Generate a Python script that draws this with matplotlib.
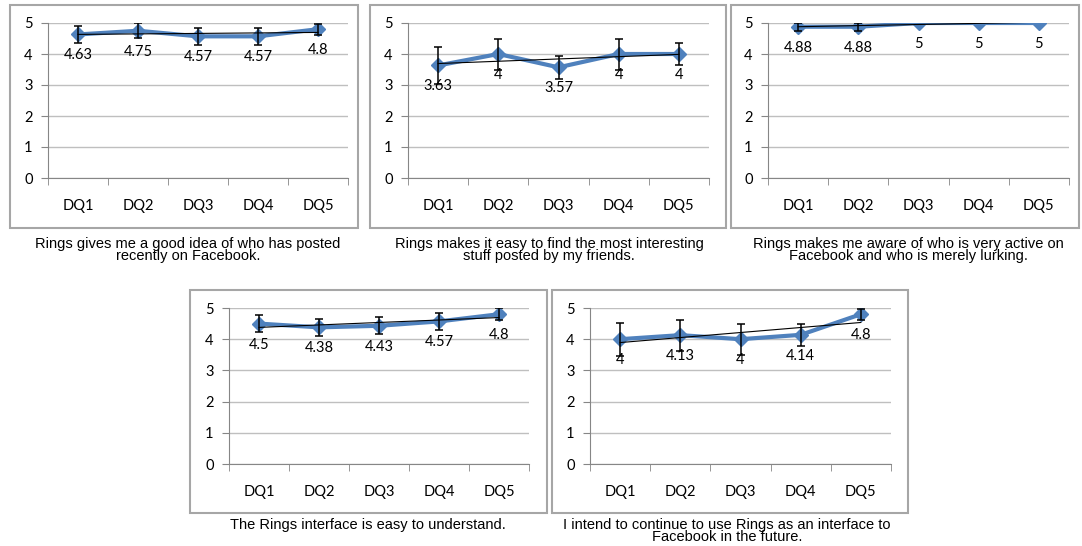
import numpy as np
import matplotlib
matplotlib.use("Agg")
import matplotlib.pyplot as plt
from matplotlib.patches import Rectangle

# datos de las cinco preguntas
categories = ["DQ1", "DQ2", "DQ3", "DQ4", "DQ5"]

p1_vals = [4.63, 4.75, 4.57, 4.57, 4.8]
p1_err = [0.28, 0.24, 0.28, 0.28, 0.18]
p1_title = "Rings gives me a good idea of who has posted\nrecently on Facebook."

p2_vals = [3.63, 4, 3.57, 4, 4]
p2_err = [0.6, 0.5, 0.38, 0.5, 0.36]
p2_title = "Rings makes it easy to find the most interesting\nstuff posted by my friends."

p3_vals = [4.88, 4.88, 5, 5, 5]
p3_err = [0.13, 0.13, 0, 0, 0]
p3_title = "Rings makes me aware of who is very active on\nFacebook and who is merely lurking."

p4_vals = [4.5, 4.38, 4.43, 4.57, 4.8]
p4_err = [0.28, 0.27, 0.27, 0.27, 0.19]
p4_title = "The Rings interface is easy to understand."

p5_vals = [4, 4.13, 4, 4.14, 4.8]
p5_err = [0.53, 0.5, 0.5, 0.35, 0.18]
p5_title = "I intend to continue to use Rings as an interface to\nFacebook in the future."

W, H = 1082, 546
BLUE = "#4F81BD"
GRID = "#BFBFBF"
AXIS = "#868686"
BOX = "#A6A6A6"

fig = plt.figure(figsize=(W / 100, H / 100), dpi=100)
fig.patch.set_facecolor("white")


def px_axes(x0, x1, y0, y1):
    return fig.add_axes([x0 / W, 1 - y1 / H, (x1 - x0) / W, (y1 - y0) / H])


def box(x0, x1, y0, y1):
    fig.patches.append(Rectangle((x0 / W, 1 - y1 / H), (x1 - x0) / W, (y1 - y0) / H,
                                 transform=fig.transFigure, fill=False,
                                 edgecolor=BOX, linewidth=1.5))


def panel(vals, errs, title, ax_px, box_px, cap_xy):
    box(*box_px)
    ax = px_axes(*ax_px)
    x = np.arange(len(categories))
    ax.set_xlim(-0.5, len(categories) - 0.5)
    ax.set_ylim(0, 5)
    ax.set_yticks(range(6))
    ax.set_yticklabels([str(v) for v in range(6)], fontsize=10.5, family="Lato")
    ax.set_xticks(x)
    ax.set_xticklabels(categories, fontsize=10.5, family="Lato")
    ax.set_xticks(np.arange(-0.5, len(categories)), minor=True)
    ax.tick_params(axis="x", which="major", length=0, pad=15)
    ax.tick_params(axis="x", which="minor", length=5, color=AXIS)
    ax.tick_params(axis="y", length=5, color=AXIS, pad=6)
    ax.grid(axis="y", color=GRID, linewidth=1)
    ax.set_axisbelow(True)
    for s in ["top", "right"]:
        ax.spines[s].set_visible(False)
    for s in ["left", "bottom"]:
        ax.spines[s].set_color(AXIS)

    ax.plot(x, vals, color=BLUE, linewidth=3, marker="D", markersize=7,
            markerfacecolor=BLUE, markeredgecolor=BLUE, zorder=3)
    # barras de error solo donde hay desviacion
    e = np.array(errs)
    m = e > 0
    ax.errorbar(x[m], np.array(vals)[m], yerr=e[m], fmt="none", ecolor="black",
                elinewidth=1.1, capsize=3, capthick=1.1, zorder=4)
    # linea de tendencia lineal
    coef = np.polyfit(x, vals, 1)
    ax.plot(x, np.polyval(coef, x), color="black", linewidth=0.8, zorder=5)

    for xi, v in zip(x, vals):
        ax.annotate(f"{v:g}", (xi, v), xytext=(0, -21), textcoords="offset pixels",
                    ha="center", va="center", fontsize=10.5, family="Lato", zorder=6)

    fig.text(cap_xy[0] / W, 1 - cap_xy[1] / H, title, ha="center", va="top",
             fontsize=10.5, family="Liberation Sans", linespacing=0.8)


panel(p1_vals, p1_err, p1_title, (48, 348, 23, 178), (10, 358, 5, 228), (188, 237))
panel(p2_vals, p2_err, p2_title, (408, 709, 23, 178), (370, 726, 5, 228), (549, 237))
panel(p3_vals, p3_err, p3_title, (768, 1069, 23, 178), (731, 1079, 5, 228), (908, 237))
panel(p4_vals, p4_err, p4_title, (229, 529, 308, 464), (190, 547, 290, 513), (368, 518))
panel(p5_vals, p5_err, p5_title, (590, 891, 308, 464), (552, 908, 290, 513), (727, 518))

fig.savefig("out.png", dpi=100)
